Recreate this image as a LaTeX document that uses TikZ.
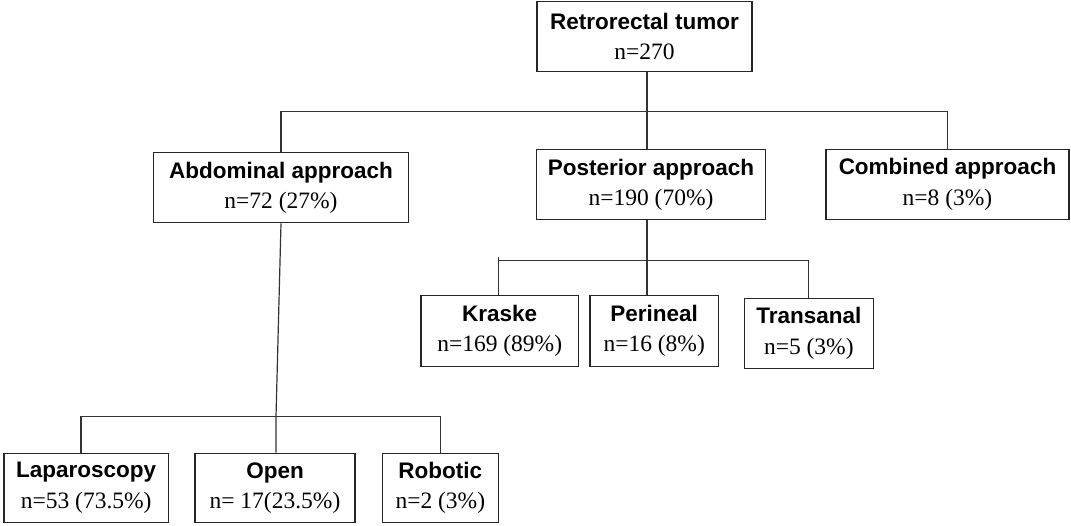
\documentclass[tikz,border=0pt]{standalone}
\usepackage{fontspec}
\setmainfont{Liberation Serif}
\setsansfont{Liberation Sans}
\newcommand{\ttl}[1]{{\sffamily\bfseries\fontsize{22.5}{30.5}\selectfont #1}}
\newcommand{\cnt}[1]{{\rmfamily\fontsize{23.5}{30.5}\selectfont #1}}
\begin{document}
\begin{tikzpicture}[x=1pt,y=-1pt,
  box/.style={draw=black!85, line width=1.2pt, fill=white, align=center,
    inner sep=0pt, minimum height=70.5pt, font=\fontsize{23}{30.5}\selectfont},
  link/.style={draw=black!80, line width=1.2pt}]
\useasboundingbox (0,0) rectangle (1071,525);
% level 0
\node[box, minimum width=215pt] (root) at (644.5,36.5) {\ttl{Retrorectal tumor}\\\cnt{n=270}};
% level 1
\node[box, minimum width=255.4pt] (abd) at (281,187.6) {\ttl{Abdominal approach}\\\cnt{n=72 (27\%)}};
\node[box, minimum width=228.6pt] (post) at (651,184.6) {\ttl{Posterior approach}\\\cnt{n=190 (70\%)}};
\node[box, minimum width=243pt] (comb) at (947.5,184.5) {\ttl{Combined approach}\\\cnt{n=8 (3\%)}};
% level 2 (posterior)
\node[box, minimum width=157.3pt] (kra) at (499.7,331) {\ttl{Kraske}\\\cnt{n=169 (89\%)}};
\node[box, minimum width=128.3pt] (per) at (654.2,331) {\ttl{Perineal}\\\cnt{n=16 (8\%)}};
\node[box, minimum width=129pt, minimum height=69.6pt] (tra) at (808.8,333.5) {\ttl{Transanal}\\\cnt{n=5 (3\%)}};
% level 2 (abdominal)
\node[box, minimum width=164.3pt, minimum height=69.4pt] (lap) at (86.2,488) {\ttl{Laparoscopy}\\\cnt{n=53 (73.5\%)}};
\node[box, minimum width=160pt, minimum height=69.4pt] (open) at (275,488) {\ttl{Open}\\\cnt{n= 17(23.5\%)}};
\node[box, minimum width=116pt, minimum height=69.4pt] (rob) at (440.3,488) {\ttl{Robotic}\\\cnt{n=2 (3\%)}};
% junctions
\coordinate (j1) at (647,111.5);
\coordinate (j2) at (647,260.7);
\coordinate (j2t) at (498.3,257);
\coordinate (j3) at (276,416.7);
\coordinate (j3l) at (81,416.7);
% connectors
\draw[link] (j1 |- root.south) -- (j1) -- (j1 |- post.north);
\draw[link] (abd.north) |- (j1) -| (comb.north);
\draw[link] (j2 |- post.south) -- (j2) -- (j2 |- per.north);
\draw[link] (j2t) -- (j2t |- kra.north);
\draw[link] (j2t |- j2) -- (j2) -| (tra.north);
\draw[link] (abd.south) -- (j3) -- (j3 |- open.north);
\draw[link] (j3l |- lap.north) -- (j3l) -- (j3) -| (rob.north);
\end{tikzpicture}
\end{document}
